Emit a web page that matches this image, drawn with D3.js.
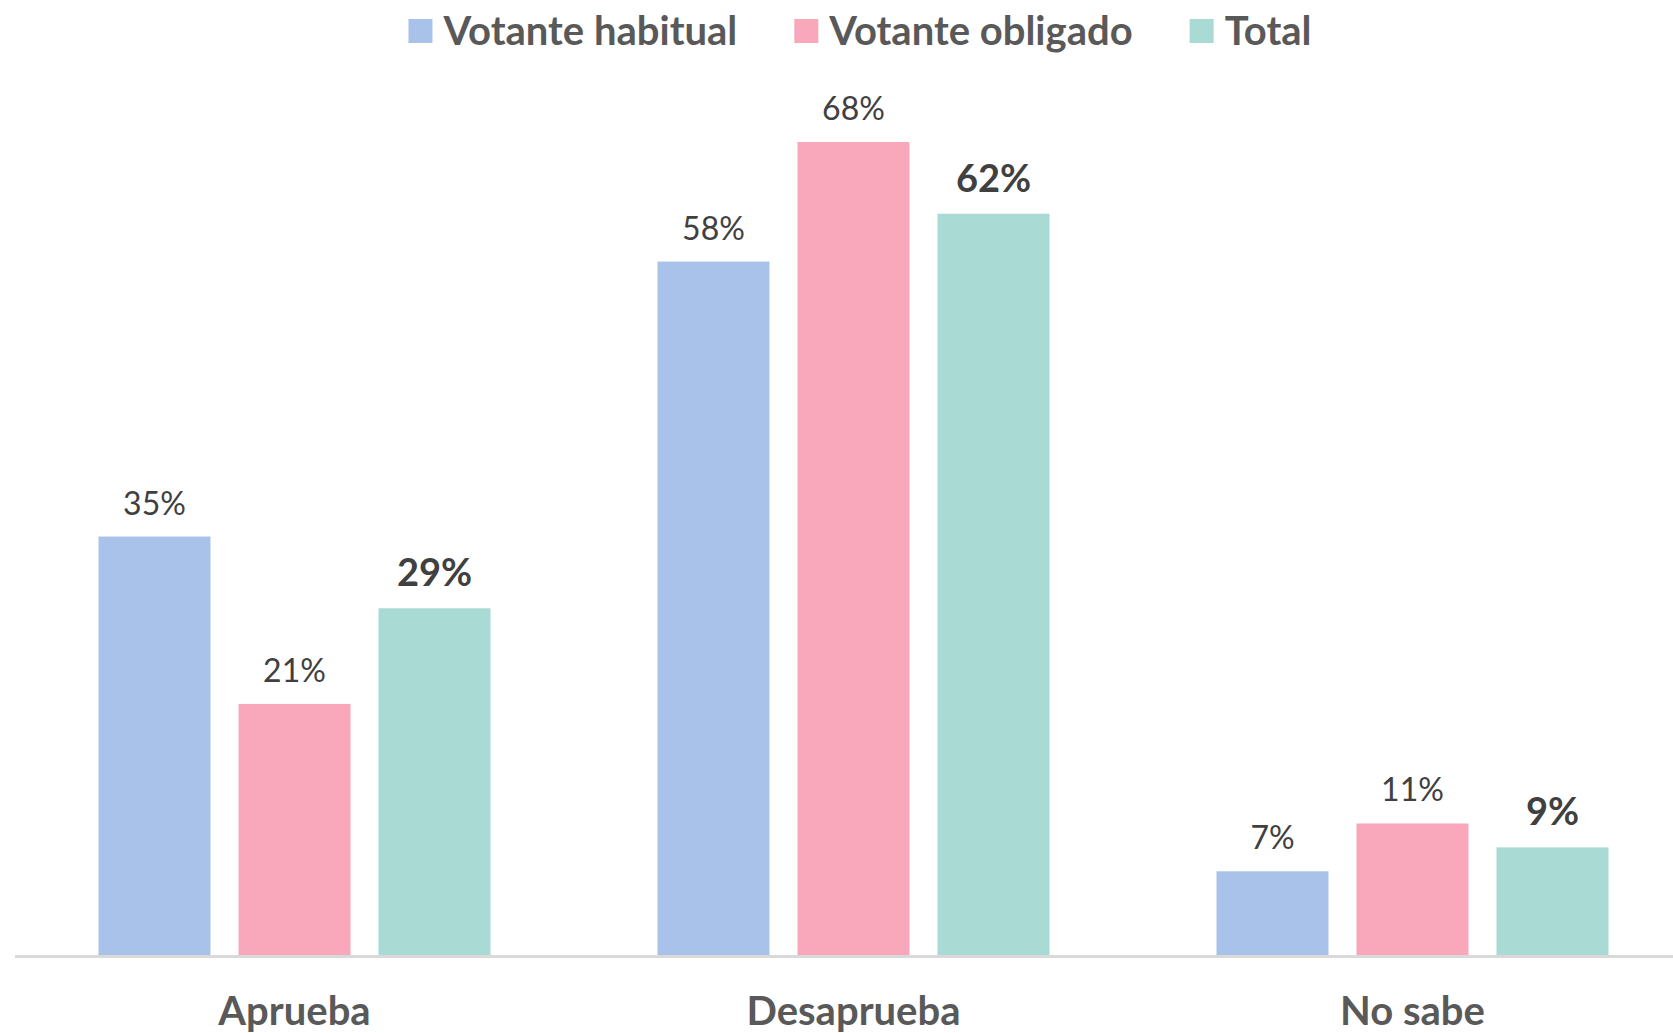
<!DOCTYPE html>
<html>
<head>
<meta charset="utf-8">
<script src="https://cdn.jsdelivr.net/npm/d3@7"></script>
<style>
  body { margin: 0; background: #fff; }
  text { font-family: Lato, "Open Sans", sans-serif; }
</style>
</head>
<body>
<div id="chart"></div>
<script>
// data
const categories = ['Aprueba', 'Desaprueba', 'No sabe'];
const seriesNames = ['Votante habitual', 'Votante obligado', 'Total'];
const habitual = [35, 58, 7];
const obligado = [21, 68, 11];
const total = [29, 62, 9];
const seriesColors = ['#A9C2E9', '#F8A8BA', '#A9DAD3'];

const seriesValues = [habitual, obligado, total];

const w = 1673;
const h = 1033;
const baseY = 955;

const svg = d3.select('#chart')
    .append('svg')
    .attr('width', w)
    .attr('height', h);

const x0 = d3.scaleBand() // one band per category
    .domain(categories)
    .range([15, 1692])
    .paddingInner(0)
    .paddingOuter(0);

const groupPad = 83.5;
const x1 = d3.scaleBand() // bars inside a category
    .domain(seriesNames)
    .range([groupPad, x0.bandwidth() - groupPad])
    .paddingInner(0.2)
    .paddingOuter(0);

const y = d3.scaleLinear()
    .domain([0, 68])
    .range([baseY, 142]);

// bars
const groups = svg.selectAll('g.group')
    .data(categories)
    .enter()
    .append('g')
    .attr('class', 'group')
    .attr('transform', (d) => 'translate(' + x0(d) + ',0)');

groups.selectAll('rect')
    .data((d, ci) => seriesNames.map((s, si) => ({ s: s, si: si, v: seriesValues[si][ci] })))
    .enter()
    .append('rect')
    .attr('x', (d) => x1(d.s))
    .attr('y', (d) => y(d.v))
    .attr('width', x1.bandwidth())
    .attr('height', (d) => y(0) - y(d.v))
    .attr('fill', (d) => seriesColors[d.si]);

// value labels, the Total series is bold
groups.selectAll('text.val')
    .data((d, ci) => seriesNames.map((s, si) => ({ s: s, si: si, v: seriesValues[si][ci] })))
    .enter()
    .append('text')
    .attr('class', 'val')
    .attr('x', (d) => x1(d.s) + x1.bandwidth() / 2)
    .attr('y', (d) => y(d.v) - 22)
    .attr('text-anchor', 'middle')
    .attr('fill', '#404040')
    .style('font-size', (d) => d.si === 2 ? '38px' : '32px')
    .style('font-weight', (d) => d.si === 2 ? 'bold' : 'normal')
    .text((d) => d.v + '%');

// baseline
svg.append('line')
    .attr('x1', 15)
    .attr('x2', w)
    .attr('y1', baseY + 1.5)
    .attr('y2', baseY + 1.5)
    .attr('stroke', '#D9D9D9')
    .attr('stroke-width', 3);

// category axis labels
const xAxis = d3.axisBottom(x0).tickSize(0).tickPadding(0);
const axisG = svg.append('g')
    .attr('transform', 'translate(0,' + baseY + ')')
    .call(xAxis);
axisG.select('.domain').remove();
axisG.selectAll('text')
    .attr('dy', null)
    .attr('y', 70)
    .attr('fill', '#595959')
    .style('font-family', 'Lato, sans-serif')
    .style('font-size', '40px')
    .style('font-weight', 'bold');

// legend
const legend = svg.append('g');
const items = legend.selectAll('g')
    .data(seriesNames)
    .enter()
    .append('g');
items.append('rect')
    .attr('width', 24)
    .attr('height', 24)
    .attr('y', 19)
    .attr('fill', (d, i) => seriesColors[i]);
items.append('text')
    .attr('x', 35)
    .attr('y', 45)
    .attr('fill', '#595959')
    .style('font-size', '40px')
    .style('font-weight', 'bold')
    .text((d) => d);

let cx = 0;
items.each(function () {
    d3.select(this).attr('transform', 'translate(' + cx + ',0)');
    cx += 35 + d3.select(this).select('text').node().getComputedTextLength() + 57;
});
const legendW = cx - 57;
legend.attr('transform', 'translate(' + (860 - legendW / 2) + ',0)');
</script>
</body>
</html>
